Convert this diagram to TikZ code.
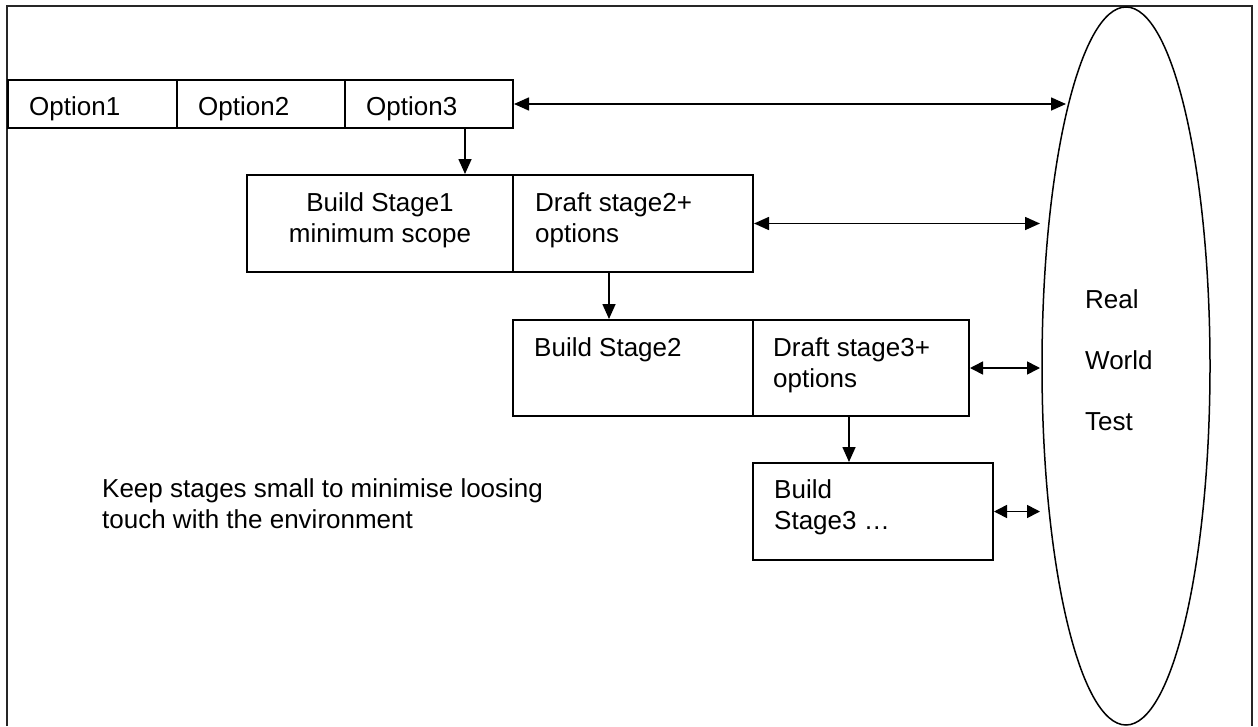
\documentclass[tikz,border=0pt]{standalone}
\usepackage{fontspec}
\setmainfont{Liberation Sans}
\usetikzlibrary{shapes.geometric,arrows.meta}
% stacked lines, aligned on the baseline of the first line
\newcommand{\leftlines}[1]{\begin{tabular}[t]{@{}l@{}}#1\end{tabular}}
\newcommand{\midlines}[1]{\begin{tabular}[t]{@{}c@{}}#1\end{tabular}}
\begin{document}
\begin{tikzpicture}[x=1pt,y=-1pt,
  cell/.style={draw,line width=2pt,inner sep=0pt},
  label/.style={inner sep=0pt,font=\fontsize{26}{31}\selectfont},
  arr/.style={line width=1.6pt,-{Triangle[length=15pt,width=13pt]}},
  dbl/.style={line width=1.6pt,{Triangle[length=15pt,width=13pt]}-{Triangle[length=15pt,width=13pt]}},
  short/.style={line width=1.6pt,{Triangle[length=13pt,width=13pt]}-{Triangle[length=13pt,width=13pt]}}]
\useasboundingbox (0,0) rectangle (1258,726);

% outer frame, open at the bottom
\draw[line width=2pt,black!85] (7,726) -- (7,6) -- (1252,6) -- (1252,726);

% option row
\node[cell,minimum width=169pt,minimum height=48pt] (o1) at (92.5,104) {};
\node[cell,minimum width=168pt,minimum height=48pt] (o2) at (261,104) {};
\node[cell,minimum width=168pt,minimum height=48pt] (o3) at (429,104) {};
\node[label,anchor=base west] (o1t) at (29,115) {Option1};
\node[label,anchor=base west] (o2t) at (198,115) {Option2};
\node[label,anchor=base west] (o3t) at (366,115) {Option3};

% stage 1
\node[cell,minimum width=266pt,minimum height=97pt] (b1) at (380,223.5) {};
\node[cell,minimum width=240pt,minimum height=97pt] (d2) at (633,223.5) {};
\node[label,anchor=base] (b1t) at (380,211) {\midlines{Build Stage1\\minimum scope}};
\node[label,anchor=base west] (d2t) at (535,211) {\leftlines{Draft stage2+\\options}};

% stage 2
\node[cell,minimum width=240pt,minimum height=96pt] (b2) at (633,368) {};
\node[cell,minimum width=216pt,minimum height=96pt] (d3) at (861,368) {};
\node[label,anchor=base west] (b2t) at (534,356) {Build Stage2};
\node[label,anchor=base west] (d3t) at (773,356) {\leftlines{Draft stage3+\\options}};

% stage 3
\node[cell,minimum width=240pt,minimum height=97pt] (b3) at (873,511.5) {};
\node[label,anchor=base west] (b3t) at (774,498) {\leftlines{Build\\Stage3 \ldots}};

% note
\node[label,anchor=base west] (note) at (102,497) {\leftlines{Keep stages small to minimise loosing\\touch with the environment}};

% real world test
\node[draw,ellipse,line width=1.5pt,inner sep=0pt,minimum width=168pt,minimum height=718pt] (rw) at (1126,366) {};
\node[label,anchor=base west] (rwt) at (1085,308) {\leftlines{Real\\[30pt]World\\[30pt]Test}};

% arrow ends on the ellipse side
\coordinate (tipa) at (1066,0);
\coordinate (tipb) at (1040,0);

% stage-to-stage arrows
\path ([xshift=36pt]o3.south) coordinate (s1);
\draw[arr] (s1) -- (s1 |- b1.north);
\path ([xshift=-24pt]d2.south) coordinate (s2);
\draw[arr] (s2) -- (s2 |- b2.north);
\path ([xshift=-12pt]d3.south) coordinate (s3);
\draw[arr] (s3) -- (s3 |- b3.north);

% exchanges with the real world
\draw[dbl] (o3.east) -- (o3.east -| tipa);
\draw[dbl] (d2.east) -- (d2.east -| tipb);
\draw[short] (d3.east) -- (d3.east -| tipb);
\draw[short] (b3.east) -- (b3.east -| tipb);
\end{tikzpicture}
\end{document}
